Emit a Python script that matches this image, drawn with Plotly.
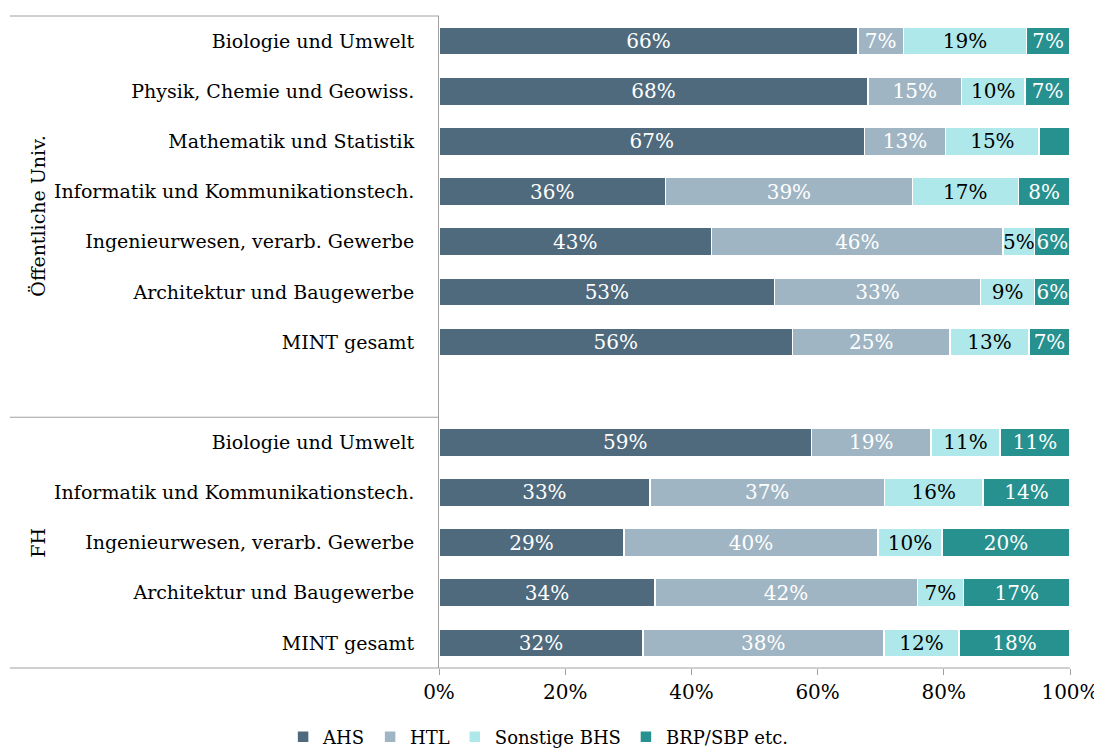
import plotly.graph_objects as go

categories = [
    "Biologie und Umwelt",
    "Physik, Chemie und Geowiss.",
    "Mathematik und Statistik",
    "Informatik und Kommunikationstech.",
    "Ingenieurwesen, verarb. Gewerbe",
    "Architektur und Baugewerbe",
    "MINT gesamt",
    "",
    "Biologie und Umwelt",
    "Informatik und Kommunikationstech.",
    "Ingenieurwesen, verarb. Gewerbe",
    "Architektur und Baugewerbe",
    "MINT gesamt",
]
groups = ["Öffentliche Univ.", "FH"]

ahs = [66.4, 68.0, 67.4, 35.9, 43.2, 53.2, 56.0, None, 59.0, 33.4, 29.3, 34.2, 32.3]
htl = [7.2, 14.8, 12.9, 39.1, 46.2, 32.6, 25.0, None, 19.0, 37.2, 40.3, 41.6, 38.2]
sonst = [19.5, 10.1, 14.8, 16.8, 5.0, 8.6, 12.5, None, 10.9, 15.6, 10.1, 7.3, 11.9]
brp = [6.9, 7.1, 4.9, 8.2, 5.6, 5.6, 6.5, None, 11.1, 13.8, 20.3, 16.9, 17.6]

ahs_lbl = ["66%", "68%", "67%", "36%", "43%", "53%", "56%", "", "59%", "33%", "29%", "34%", "32%"]
htl_lbl = ["7%", "15%", "13%", "39%", "46%", "33%", "25%", "", "19%", "37%", "40%", "42%", "38%"]
sonst_lbl = ["19%", "10%", "15%", "17%", "5%", "9%", "13%", "", "11%", "16%", "10%", "7%", "12%"]
brp_lbl = ["7%", "7%", "", "8%", "6%", "6%", "7%", "", "11%", "14%", "20%", "17%", "18%"]

series = [
    ("AHS", ahs, ahs_lbl, "#4F6A7D", "white"),
    ("HTL", htl, htl_lbl, "#A0B5C3", "white"),
    ("Sonstige BHS", sonst, sonst_lbl, "#AFE8EA", "black"),
    ("BRP/SBP etc.", brp, brp_lbl, "#27918F", "white"),
]

FONT = "DejaVu Serif"
ypos = list(range(len(categories)))

fig = go.Figure()
for name, vals, lbls, color, tcol in series:
    fig.add_trace(go.Bar(
        name=name, y=ypos, x=vals, orientation="h",
        marker=dict(color=color, line=dict(color="white", width=1.5)),
        text=lbls, textposition="inside", insidetextanchor="middle",
        textfont=dict(family=FONT, size=20, color=tcol),
        constraintext="none", hoverinfo="skip",
    ))

# the page body adds an 8px offset; the figure size and margins compensate
fig.update_layout(
    barmode="stack", bargap=0.44,
    width=1094, height=741,
    margin=dict(l=431, r=32, t=8, b=81, autoexpand=False),
    paper_bgcolor="white", plot_bgcolor="white",
    font=dict(family=FONT, size=19, color="black"),
    uniformtext=dict(minsize=20, mode="show"),
    showlegend=True,
    legend=dict(orientation="h", x=0.157, xanchor="center", y=-0.106, yanchor="middle",
                font=dict(family=FONT, size=18), traceorder="normal",
                itemwidth=30),
    xaxis=dict(range=[0, 100], tickvals=[0, 20, 40, 60, 80, 100],
               ticktext=["0%", "20%", "40%", "60%", "80%", "100%"],
               ticks="outside", ticklen=6, tickcolor="#A0A0A0",
               showgrid=False, zeroline=False, showline=False, automargin=False,
               tickfont=dict(family=FONT, size=20)),
    yaxis=dict(range=[12.5, -0.5], tickvals=ypos, ticktext=categories,
               showgrid=False, zeroline=False, showline=True, automargin=False,
               linecolor="#A0A0A0", linewidth=1, ticks="",
               ticklabelstandoff=20,
               tickfont=dict(family=FONT, size=19)),
)

lc = "#A0A0A0"
left = -0.68
fig.add_shape(type="line", xref="paper", yref="paper", x0=left, x1=0, y0=1, y1=1,
              line=dict(color=lc, width=1))
fig.add_shape(type="line", xref="paper", yref="y", x0=left, x1=0, y0=7.5, y1=7.5,
              line=dict(color=lc, width=1))
fig.add_shape(type="line", xref="paper", yref="paper", x0=left, x1=1, y0=0, y1=0,
              line=dict(color=lc, width=1))

fig.add_annotation(text=groups[0], xref="paper", yref="y", x=-0.656, y=3.5,
                   textangle=-90, showarrow=False, font=dict(family=FONT, size=19))
fig.add_annotation(text=groups[1], xref="paper", yref="y", x=-0.656, y=10,
                   textangle=-90, showarrow=False, font=dict(family=FONT, size=19))

fig.write_html("out.html")
